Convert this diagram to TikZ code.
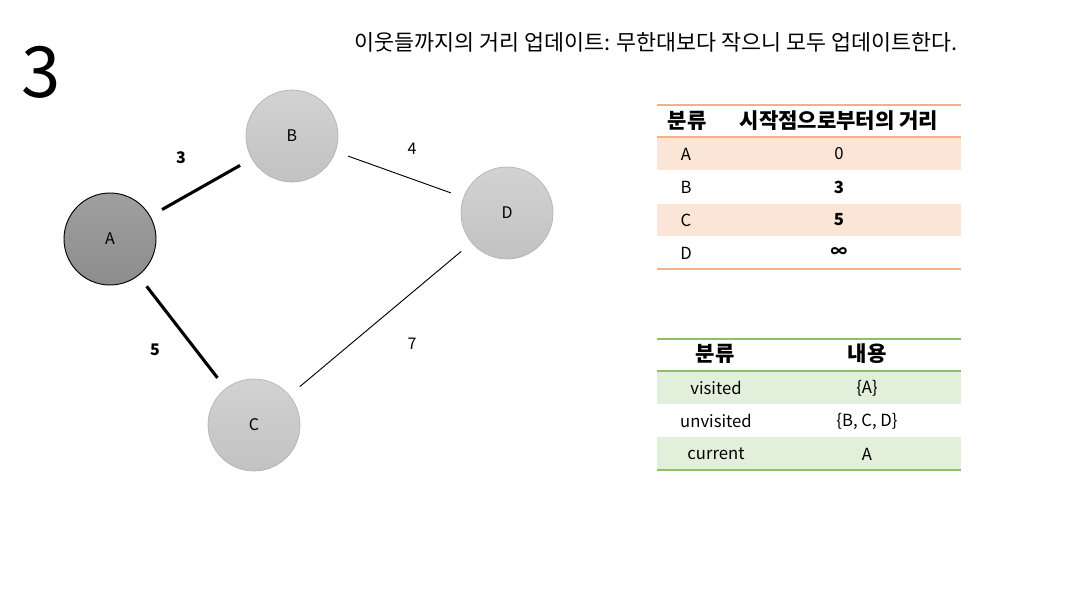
\documentclass[tikz,border=0pt]{standalone}
\usepackage{fontspec}
\setmainfont{Noto Sans CJK KR}
\usepackage{tikz}
\usetikzlibrary{positioning}
\pgfdeclarelayer{nodelayer}
\pgfdeclarelayer{edgelayer}
\pgfsetlayers{nodelayer,edgelayer,main}
\definecolor{orangeline}{HTML}{F4B183}
\definecolor{orangefill}{HTML}{FBE5D6}
\definecolor{greenline}{HTML}{8DC06B}
\definecolor{greenfill}{HTML}{E2EFDA}
\tikzset{
    none/.style = {inner sep=0pt},
    vertex/.style = {circle, minimum size=69pt, inner sep=0pt, font=\fontsize{12}{14}\selectfont,
                     top color=gray!35, bottom color=gray!48, draw=gray!60, line width=0.5pt},
    current/.style = {vertex, top color=gray!75, bottom color=gray!110!black, draw=black, line width=0.7pt},
    heavy/.style = {line width=2.3pt, shorten >=10pt, shorten <=10pt},
    light/.style = {line width=0.7pt, shorten >=10pt, shorten <=10pt},
    weight/.style = {none, font=\fontsize{12}{14}\selectfont},
    cell/.style = {none, font=\fontsize{12.5}{15}\selectfont},
    head/.style = {none, font=\fontsize{15.8}{18}\selectfont\bfseries}
}
\begin{document}
\begin{tikzpicture}[x=0.75pt, y=-0.75pt]
  \useasboundingbox (0,0) rectangle (1068,601);
  \begin{pgfonlayer}{nodelayer}
    \node [style=none, font=\fontsize{53}{60}\selectfont] (step) at (41,72) {3};
    \node [style=none, font=\fontsize{16.3}{19}\selectfont] (title) at (656,42) {이웃들까지의 거리 업데이트: 무한대보다 작으니 모두 업데이트한다.};
    \node [style=current] (A) at (110,239) {A};
    \node [style=vertex] (B) at (292,136) {B};
    \node [style=vertex] (C) at (254,425) {C};
    \node [style=vertex] (D) at (507,213) {D};
    \node [style=weight, font=\fontsize{12}{14}\selectfont\bfseries] (wab) at (181,158) {3};
    \node [style=weight] (wbd) at (412,149) {4};
    \node [style=weight, font=\fontsize{12}{14}\selectfont\bfseries] (wac) at (155,350) {5};
    \node [style=weight] (wcd) at (412,344) {7};
  \end{pgfonlayer}
  \begin{pgfonlayer}{edgelayer}
    \draw [style=heavy] (A) to (B);
    \draw [style=light] (B) to (D);
    \draw [style=heavy] (A) to (C);
    \draw [style=light] (C) to (D);
  \end{pgfonlayer}
  % distance table
  \fill [orangefill] (657,138) rectangle (961,170);
  \fill [orangefill] (657,204) rectangle (961,236);
  \draw [orangeline, line width=0.9pt] (657,105) -- (961,105);
  \draw [orangeline, line width=1.6pt] (657,137) -- (961,137);
  \draw [orangeline, line width=0.9pt] (657,269) -- (961,269);
  \node [style=head] (dh1) at (687,121) {분류};
  \node [style=head] (dh2) at (839,121) {시작점으로부터의 거리};
  \node [style=cell] (da) at (686,154) {A};
  \node [style=cell] (d0) at (839,154) {0};
  \node [style=cell] (db) at (686,187) {B};
  \node [style=cell, font=\fontsize{12.5}{15}\selectfont\bfseries] (d3) at (839,187) {3};
  \node [style=cell] (dc) at (686,220) {C};
  \node [style=cell, font=\fontsize{12.5}{15}\selectfont\bfseries] (d5) at (839,220) {5};
  \node [style=cell] (dd) at (686,253) {D};
  \node [style=cell, font=\fontsize{12.5}{15}\selectfont\bfseries] (dinf) at (839,253) {∞};
  % visit table
  \fill [greenfill] (657,372) rectangle (961,404);
  \fill [greenfill] (657,437) rectangle (961,469);
  \draw [greenline, line width=0.9pt] (657,339) -- (961,339);
  \draw [greenline, line width=1.6pt] (657,371) -- (961,371);
  \draw [greenline, line width=0.9pt] (657,470) -- (961,470);
  \node [style=head] (vh1) at (715,354) {분류};
  \node [style=head] (vh2) at (867,354) {내용};
  \node [style=cell] (vv) at (716,388) {visited};
  \node [style=cell] (vvs) at (867,388) {\{A\}};
  \node [style=cell] (vu) at (716,421) {unvisited};
  \node [style=cell] (vus) at (867,421) {\{B, C, D\}};
  \node [style=cell] (vc) at (716,454) {current};
  \node [style=cell] (vcs) at (867,454) {A};
\end{tikzpicture}
\end{document}
